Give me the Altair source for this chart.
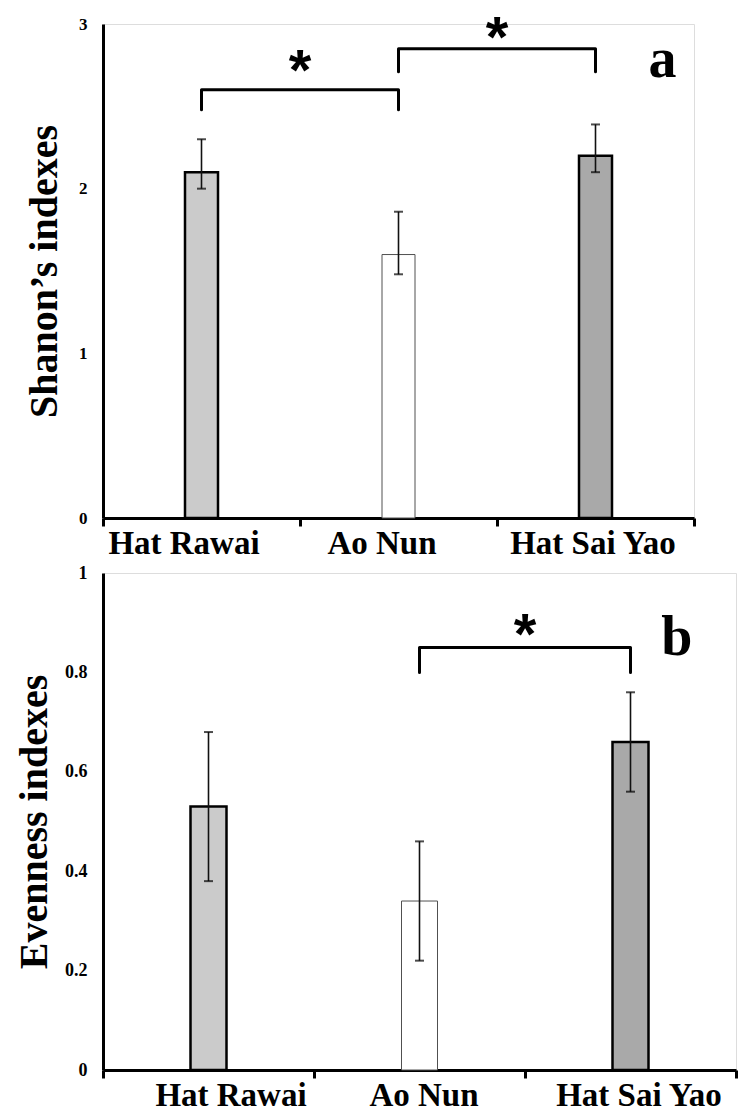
import altair as alt
import pandas as pd

# ---------------- data ----------------
sites = ["Hat Rawai", "Ao Nun", "Hat Sai Yao"]

shannon_mean = [2.10, 1.60, 2.20]
shannon_low = [2.00, 1.48, 2.10]
shannon_high = [2.30, 1.86, 2.39]

even_mean = [0.53, 0.34, 0.66]
even_low = [0.38, 0.22, 0.56]
even_high = [0.68, 0.46, 0.76]

# significance brackets (from site, to site, bracket level, leg end)
top_br_from = ["Hat Rawai", "Ao Nun"]
top_br_to = ["Ao Nun", "Hat Sai Yao"]
top_br_level = [2.60, 2.85]
top_br_leg = [2.48, 2.71]
top_star_site = ["Hat Rawai", "Ao Nun"]
top_star_y = [2.79, 2.99]

bot_br_from = ["Ao Nun"]
bot_br_to = ["Hat Sai Yao"]
bot_br_level = [0.85]
bot_br_leg = [0.80]
bot_star_site = ["Ao Nun"]
bot_star_y = [0.90]

panel_letters = ["a", "b"]
panel_letter_y = [2.78, 0.87]

shannon_ticks = [0, 1, 2, 3]
even_ticks = [0, 0.2, 0.4, 0.6, 0.8, 1]

# ---------------- styles ----------------
bar_fills = ["#cbcbcb", "#ffffff", "#a9a9a9"]
bar_strokes = ["#000000", "#505050", "#000000"]
bar_stroke_widths = [2.5, 1.0, 2.5]
SERIF = "Liberation Serif"
# horizontal nudges of the category labels (pixels), per panel
top_label_shift = [-18, -17, -3]
bottom_label_shift = [22, 4, 8]


def bars_df(mean, low, high):
    return pd.DataFrame({
        "site": sites, "mean": mean, "low": low, "high": high,
        "fill": bar_fills, "stroke": bar_strokes, "sw": bar_stroke_widths,
    })


def bracket_df(froms, tos, levels, legs):
    rows = []
    for i, (f, t, lv, lg) in enumerate(zip(froms, tos, levels, legs)):
        rows += [
            {"b": i, "o": 0, "site": f, "y": lg},
            {"b": i, "o": 1, "site": f, "y": lv},
            {"b": i, "o": 2, "site": t, "y": lv},
            {"b": i, "o": 3, "site": t, "y": lg},
        ]
    return pd.DataFrame(rows)


def label_offset(shifts):
    return {
        "condition": [
            {"test": f"datum.value === '{sites[0]}'", "value": shifts[0]},
            {"test": f"datum.value === '{sites[1]}'", "value": shifts[1]},
        ],
        "value": shifts[2],
    }


def panel(mean, low, high, froms, tos, levels, legs, star_sites, star_ys,
          letter, letter_y, letter_band, ymax, ticks, ytitle, width, height,
          tick_label_size, title_pad, shifts, bar_size):
    xs = alt.Scale(domain=sites, paddingInner=0, paddingOuter=0)
    ys = alt.Scale(domain=[0, ymax], nice=False, zero=True)
    xaxis = alt.Axis(title=None, labelAngle=0, labelFont=SERIF, labelFontWeight="bold",
                     labelFontSize=33, labelColor="black", labelPadding=1,
                     labelOffset=label_offset(shifts),
                     tickBand="extent", tickSize=8, tickWidth=3, tickColor="black",
                     domainWidth=3, domainColor="black", grid=False)
    yaxis = alt.Axis(title=ytitle, values=ticks, format="~g", ticks=False,
                     labelFont=SERIF, labelFontWeight="bold",
                     labelFontSize=tick_label_size,
                     labelColor="black", labelPadding=16, domainWidth=3,
                     domainColor="black", grid=False, titleFont=SERIF,
                     titleFontWeight="bold", titleFontSize=40, titleColor="black",
                     titlePadding=title_pad)

    d = bars_df(mean, low, high)
    base = alt.Chart(d)
    bars = base.mark_bar(size=bar_size).encode(
        x=alt.X("site:N", scale=xs, axis=xaxis, sort=sites),
        y=alt.Y("mean:Q", scale=ys, axis=yaxis),
        fill=alt.Fill("fill:N", scale=None),
        stroke=alt.Stroke("stroke:N", scale=None),
        strokeWidth=alt.StrokeWidth("sw:Q", scale=None),
    )
    err = base.mark_rule(color="#111111", strokeWidth=1.6).encode(
        x=alt.X("site:N", sort=sites), y="low:Q", y2="high:Q")
    cap_hi = base.mark_tick(color="black", thickness=2, size=9).encode(
        x=alt.X("site:N", sort=sites), y="high:Q")
    cap_lo = base.mark_tick(color="black", thickness=2, size=9).encode(
        x=alt.X("site:N", sort=sites), y="low:Q")

    br = alt.Chart(bracket_df(froms, tos, levels, legs)).mark_line(
        color="black", strokeWidth=3, strokeJoin="round", strokeCap="round").encode(
        x=alt.X("site:N", sort=sites), y="y:Q", detail="b:N", order="o:Q")

    stars = alt.Chart(pd.DataFrame({"site": star_sites, "y": star_ys})).mark_text(
        text="*", font="Liberation Sans", fontWeight="bold", fontSize=58,
        baseline="middle", align="center", dy=14, color="black").encode(
        x=alt.X("site:N", sort=sites, bandPosition=1), y="y:Q")

    let = alt.Chart(pd.DataFrame({"site": ["Hat Sai Yao"], "t": [letter], "y": [letter_y]})).mark_text(
        font=SERIF, fontWeight="bold", fontSize=56, baseline="middle", align="center",
        color="black").encode(
        x=alt.X("site:N", sort=sites, bandPosition=letter_band), y="y:Q", text="t:N")

    return alt.layer(bars, err, cap_hi, cap_lo, br, stars, let).properties(
        width=width, height=height)


top = panel(shannon_mean, shannon_low, shannon_high, top_br_from, top_br_to,
            top_br_level, top_br_leg, top_star_site, top_star_y,
            panel_letters[0], panel_letter_y[0], 0.84, 3, shannon_ticks,
            "Shanon\u2019s indexes", 591, 494, 17, 14, top_label_shift, 33)
bottom = panel(even_mean, even_low, even_high, bot_br_from, bot_br_to,
               bot_br_level, bot_br_leg, bot_star_site, bot_star_y,
               panel_letters[1], panel_letter_y[1], 0.72, 1, even_ticks,
               "Evenness indexes", 633, 497, 18, 10, bottom_label_shift, 36)

chart = alt.vconcat(top, bottom, spacing=2).properties(
    padding={"top": 10, "left": 14, "right": 0, "bottom": 0}
).configure_view(strokeWidth=0).configure(background="white")

chart.save("out.html", embed_options={"renderer": "svg", "actions": False})
